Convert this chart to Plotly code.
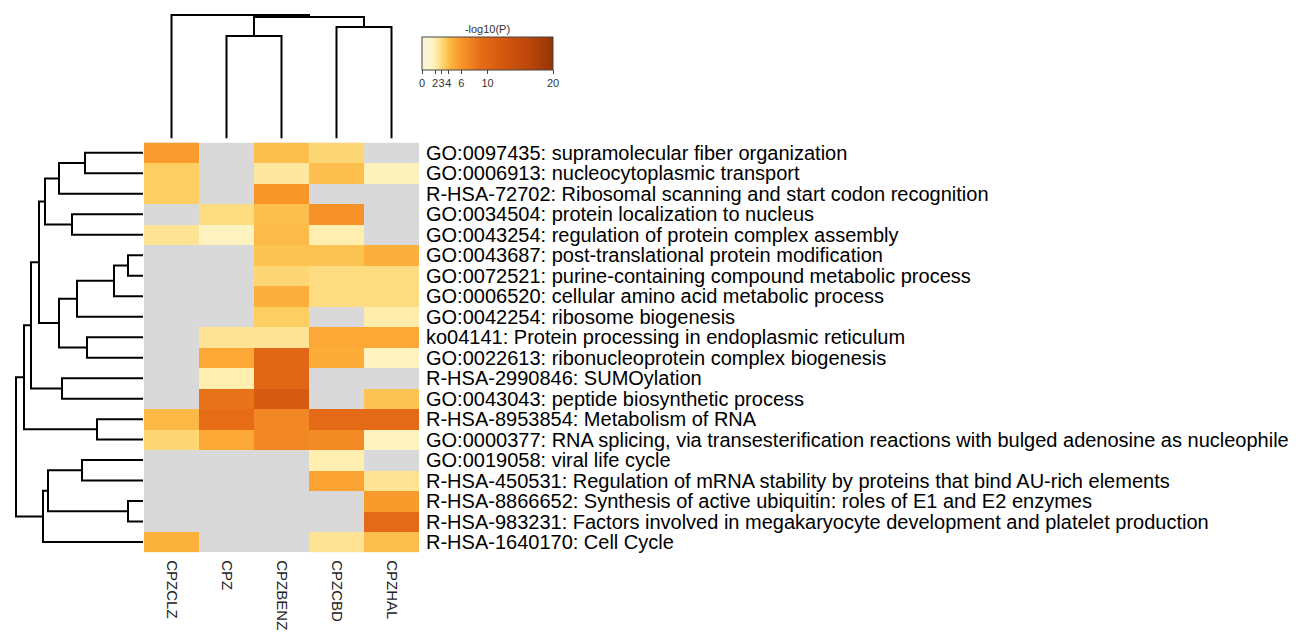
import plotly.graph_objects as go

# columns / rows in display (clustered) order
samples = ["CPZCLZ", "CPZ", "CPZBENZ", "CPZCBD", "CPZHAL"]

terms = [
    "GO:0097435: supramolecular fiber organization",
    "GO:0006913: nucleocytoplasmic transport",
    "R-HSA-72702: Ribosomal scanning and start codon recognition",
    "GO:0034504: protein localization to nucleus",
    "GO:0043254: regulation of protein complex assembly",
    "GO:0043687: post-translational protein modification",
    "GO:0072521: purine-containing compound metabolic process",
    "GO:0006520: cellular amino acid metabolic process",
    "GO:0042254: ribosome biogenesis",
    "ko04141: Protein processing in endoplasmic reticulum",
    "GO:0022613: ribonucleoprotein complex biogenesis",
    "R-HSA-2990846: SUMOylation",
    "GO:0043043: peptide biosynthetic process",
    "R-HSA-8953854: Metabolism of RNA",
    "GO:0000377: RNA splicing, via transesterification reactions with bulged adenosine as nucleophile",
    "GO:0019058: viral life cycle",
    "R-HSA-450531: Regulation of mRNA stability by proteins that bind AU-rich elements",
    "R-HSA-8866652: Synthesis of active ubiquitin: roles of E1 and E2 enzymes",
    "R-HSA-983231: Factors involved in megakaryocyte development and platelet production",
    "R-HSA-1640170: Cell Cycle",
]

# -log10(P), None = not enriched (grey)
logp = [
    [5.7, None, 4.0, 3.1, None],
    [3.4, None, 2.4, 4.0, 1.7],
    [3.4, None, 6.0, None, None],
    [None, 2.9, 4.0, 6.3, None],
    [2.6, 1.6, 4.1, 2.0, None],
    [None, None, 3.8, 3.8, 4.6],
    [None, None, 3.1, 2.9, 2.9],
    [None, None, 4.6, 2.9, 2.9],
    [None, None, 3.4, None, 2.1],
    [None, 2.6, 2.6, 5.0, 5.0],
    [None, 5.0, 10.0, 4.8, 1.6],
    [None, 2.0, 10.0, None, None],
    [None, 8.5, 12.0, None, 3.8],
    [4.2, 9.0, 7.0, 9.3, 9.3],
    [3.1, 5.0, 7.0, 6.8, 1.6],
    [None, None, None, 2.0, None],
    [None, None, None, 5.3, 2.6],
    [None, None, None, None, 5.8],
    [None, None, None, None, 9.3],
    [4.4, None, None, 2.6, 4.0],
]

cbar_ticks = [0, 2, 3, 4, 6, 10, 20]

# linkage: (left, right, height); ids >= n refer to earlier merges
col_links = [(1, 2, 103), (3, 4, 112), (5, 6, 122), (0, 7, 124)]
row_links = [
    (0, 1, 58), (20, 2, 84), (3, 4, 71), (21, 22, 98),
    (5, 6, 15), (24, 7, 29), (25, 8, 66), (9, 10, 56),
    (26, 27, 84), (23, 28, 104), (11, 12, 81), (29, 30, 112),
    (13, 14, 46), (31, 32, 119), (15, 16, 61), (17, 18, 15),
    (34, 35, 95), (36, 19, 100), (33, 37, 127),
]

colorscale = [
    [0.0, "#f7f5dc"], [0.07, "#fdf6c8"], [0.12, "#fee8a0"],
    [0.17, "#fdcf62"], [0.22, "#fcb33e"], [0.3, "#f8962a"],
    [0.45, "#e66c18"], [0.6, "#d65a10"], [0.8, "#be480a"],
    [1.0, "#963406"],
]


def dendro_lines(n, links):
    pos = {i: float(i) for i in range(n)}
    hgt = {i: 0.0 for i in range(n)}
    p, h = [], []
    for k, (a, b, d) in enumerate(links):
        p += [pos[a], pos[a], pos[b], pos[b], None]
        h += [hgt[a], d, d, hgt[b], None]
        pos[n + k] = (pos[a] + pos[b]) / 2
        hgt[n + k] = d
    return p, h


W, H = 1300, 635
OFF = 8  # page body margin


def px(x):
    return (x - OFF) / W


def py(y):
    return 1 - (y - OFF) / H


FONT = "Arial, Liberation Sans"
hx = [px(144), px(419)]
hy = [py(553), py(142)]

fig = go.Figure()

fig.add_trace(go.Heatmap(
    z=logp, x=list(range(len(samples))), y=list(range(len(terms))),
    zmin=0, zmax=20, colorscale=colorscale, hoverongaps=False,
    colorbar=dict(
        orientation="h", x=px(487.5), xanchor="center", y=py(24), yanchor="top",
        lenmode="pixels", len=131, thickness=33, xpad=0, ypad=0,
        outlinewidth=1, outlinecolor="#444",
        tickvals=cbar_ticks, ticktext=[str(t) for t in cbar_ticks], tickangle=0,
        ticks="outside", ticklen=4, tickcolor="#444",
        tickfont=dict(size=11, color="#333", family=FONT),
        title=dict(text="-log10(P)", side="top",
                   font=dict(size=11, color="#333", family=FONT)),
    ),
))

cx, cy = dendro_lines(len(samples), col_links)
fig.add_trace(go.Scatter(x=cx, y=cy, mode="lines", xaxis="x2", yaxis="y2",
                         line=dict(color="black", width=2), hoverinfo="skip"))

ry, rx = dendro_lines(len(terms), row_links)
fig.add_trace(go.Scatter(x=rx, y=ry, mode="lines", xaxis="x3", yaxis="y3",
                         line=dict(color="black", width=2), hoverinfo="skip"))

# grey for missing cells
fig.add_shape(type="rect", xref="x", yref="y", x0=-0.5, x1=4.5, y0=-0.5, y1=19.5,
              fillcolor="#d9d9d9", line_width=0, layer="below")

fig.update_layout(
    width=W, height=H, margin=dict(l=0, r=0, t=0, b=0),
    paper_bgcolor="white", plot_bgcolor="white", showlegend=False,
    xaxis=dict(domain=hx, range=[-0.5, 4.5], tickvals=list(range(len(samples))),
               ticktext=samples, tickangle=90, showgrid=False, zeroline=False,
               ticks="outside", ticklen=4, tickcolor="rgba(0,0,0,0)",
               tickfont=dict(size=15, color="#222", family=FONT)),
    yaxis=dict(domain=hy, range=[19.5, -0.5], side="right",
               tickvals=list(range(len(terms))), ticktext=terms,
               showgrid=False, zeroline=False,
               ticks="outside", ticklen=2, tickcolor="rgba(0,0,0,0)",
               tickfont=dict(size=20, color="black", family=FONT)),
    xaxis2=dict(domain=hx, range=[-0.5, 4.5], anchor="y2", visible=False),
    yaxis2=dict(domain=[py(138), 1], range=[0, 138 - OFF], anchor="x2", visible=False),
    xaxis3=dict(domain=[0, px(143)], range=[143 - OFF, 0], anchor="y3", visible=False),
    yaxis3=dict(domain=hy, range=[19.5, -0.5], anchor="x3", visible=False),
)

fig.write_html("out.html")
